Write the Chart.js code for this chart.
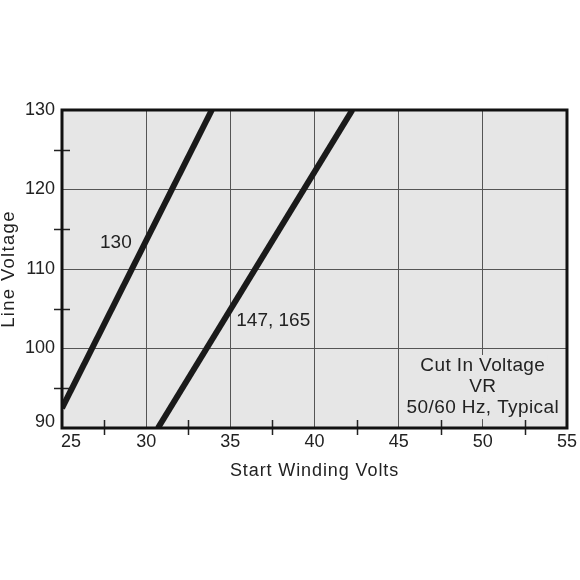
<!DOCTYPE html>
<html>
<head>
<meta charset="utf-8">
<script src="https://cdn.jsdelivr.net/npm/chart.js@4.4.1/dist/chart.umd.min.js"></script>
<style>
  html, body { margin: 0; padding: 0; background: #fff; }
  #wrap { width: 580px; height: 580px; }
</style>
</head>
<body>
<div id="wrap"><canvas id="chart" width="580" height="580"></canvas></div>
<script>
// axis ranges / ticks
const xMin = 25, xMax = 55, xStep = 5;
const yMin = 90, yMax = 130, yStep = 10;
const xMinorTicks = [27.5, 32.5, 37.5, 42.5, 47.5, 52.5];
const yMinorTicks = [95, 105, 115, 125];

// curve "130"
const curve130X = [25, 33.9];
const curve130Y = [92.5, 130];

// curve "147, 165"
const curve147X = [30.7, 42.25];
const curve147Y = [90, 130];

// text labels inside plot (in data units)
const label130 = { text: "130", x: 28.2, y: 113.3 };
const label147 = { text: "147, 165", x: 37.55, y: 103.5 };
const noteLines = ["Cut In Voltage", "VR", "50/60 Hz, Typical"];
const noteX = 50.0;
const noteY = [97.8, 95.2, 92.5];

const xTitle = "Start Winding Volts";
const yTitle = "Line Voltage";

const FONT = "'Liberation Sans', Arial, sans-serif";
const INK = "#222";
const PLOT_BG = "#e6e6e6";

function toPoints(xs, ys) {
    return xs.map((x, i) => ({ x: x, y: ys[i] }));
}

const framePlugin = {
    id: "frame",
    beforeDraw(chart) {
        const a = chart.chartArea, ctx = chart.ctx;
        ctx.save();
        ctx.fillStyle = PLOT_BG;
        ctx.fillRect(a.left, a.top, a.right - a.left, a.bottom - a.top);
        ctx.restore();
    },
    afterDatasetsDraw(chart) {
        const a = chart.chartArea, ctx = chart.ctx;
        const xs = chart.scales.x, ys = chart.scales.y;
        ctx.save();

        // minor ticks crossing the axes
        ctx.strokeStyle = INK;
        ctx.lineWidth = 1.5;
        ctx.beginPath();
        xMinorTicks.forEach(v => {
            const px = Math.round(xs.getPixelForValue(v)) + 0.5;
            ctx.moveTo(px, a.bottom - 8);
            ctx.lineTo(px, a.bottom + 7);
        });
        yMinorTicks.forEach(v => {
            const py = Math.round(ys.getPixelForValue(v)) + 0.5;
            ctx.moveTo(a.left - 8, py);
            ctx.lineTo(a.left + 8, py);
        });
        ctx.stroke();

        // in-plot labels
        ctx.font = "19px " + FONT;
        ctx.fillStyle = INK;
        ctx.textAlign = "center";
        ctx.textBaseline = "middle";
        [label130, label147].forEach(l => {
            ctx.fillText(l.text, xs.getPixelForValue(l.x), ys.getPixelForValue(l.y));
        });

        // note box (background hides the grid)
        ctx.letterSpacing = "0.4px";
        noteLines.forEach((t, i) => {
            const px = xs.getPixelForValue(noteX);
            const py = ys.getPixelForValue(noteY[i]);
            const w = ctx.measureText(t).width;
            ctx.fillStyle = PLOT_BG;
            ctx.fillRect(px - w / 2 - 2, py - 11, w + 4, 22);
        });
        ctx.fillStyle = INK;
        noteLines.forEach((t, i) => {
            ctx.fillText(t, xs.getPixelForValue(noteX), ys.getPixelForValue(noteY[i]));
        });
        ctx.letterSpacing = "0px";

        // frame
        ctx.strokeStyle = "#111";
        ctx.lineWidth = 3;
        ctx.strokeRect(a.left, a.top, a.right - a.left, a.bottom - a.top);
        ctx.restore();
    },
    afterDraw(chart) {
        const a = chart.chartArea, ctx = chart.ctx;
        const xs = chart.scales.x, ys = chart.scales.y;
        ctx.save();
        ctx.fillStyle = INK;
        ctx.textBaseline = "middle";
        ctx.textAlign = "center";

        // end tick labels, nudged inward like the original
        ctx.font = "18px " + FONT;
        ctx.fillText(String(xMin), xs.getPixelForValue(xMin) + 9, a.bottom + 14);
        ctx.textAlign = "right";
        ctx.fillText(String(yMin), a.left - 7, ys.getPixelForValue(yMin) - 6);

        // axis titles (slightly letter-spaced)
        ctx.textAlign = "center";
        ctx.font = "18px " + FONT;
        ctx.letterSpacing = "0.9px";
        ctx.fillText(xTitle, (a.left + a.right) / 2, a.bottom + 43);
        ctx.translate(9, (a.top + a.bottom) / 2);
        ctx.rotate(-Math.PI / 2);
        ctx.font = "18.5px " + FONT;
        ctx.letterSpacing = "1.3px";
        ctx.fillText(yTitle, 0, 0);
        ctx.restore();
    }
};

new Chart(document.getElementById("chart"), {
    type: "scatter",
    data: {
        datasets: [
            {
                label: "130",
                data: toPoints(curve130X, curve130Y),
                showLine: true,
                borderColor: "#1a1a1a",
                borderWidth: 6,
                pointRadius: 0,
                clip: 0
            },
            {
                label: "147, 165",
                data: toPoints(curve147X, curve147Y),
                showLine: true,
                borderColor: "#1a1a1a",
                borderWidth: 6,
                pointRadius: 0,
                clip: 0
            }
        ]
    },
    options: {
        responsive: false,
        animation: false,
        layout: { padding: { top: 110, right: 10, bottom: 100, left: 0 } },
        plugins: {
            legend: { display: false },
            tooltip: { enabled: false }
        },
        scales: {
            x: {
                type: "linear",
                min: xMin, max: xMax,
                afterFit(scale) { scale.height = 52; },
                border: { display: false },
                grid: { color: "#555", lineWidth: 1, drawTicks: false },
                ticks: {
                    stepSize: xStep,
                    padding: 3,
                    color: INK,
                    font: { family: FONT, size: 18 },
                    maxRotation: 0,
                    callback: v => (v === xMin ? "" : v)
                }
            },
            y: {
                type: "linear",
                min: yMin, max: yMax,
                afterFit(scale) { scale.width = 62; },
                border: { display: false },
                grid: { color: "#555", lineWidth: 1, drawTicks: false },
                ticks: {
                    stepSize: yStep,
                    padding: 7,
                    color: INK,
                    font: { family: FONT, size: 18 },
                    callback: v => (v === yMin ? "" : v)
                }
            }
        }
    },
    plugins: [framePlugin]
});
</script>
</body>
</html>
